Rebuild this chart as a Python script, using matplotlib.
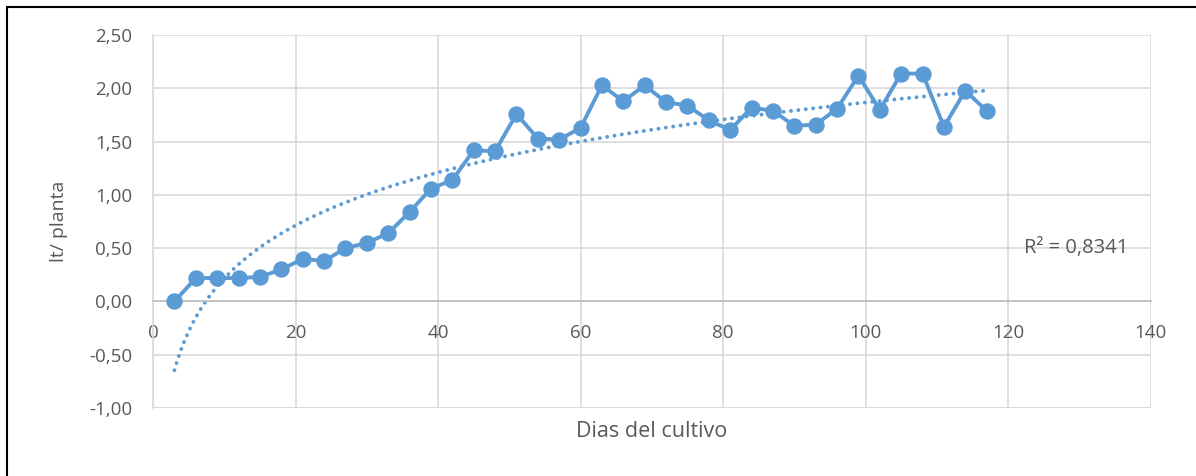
import numpy as np
import matplotlib.pyplot as plt
from matplotlib.patches import Rectangle
from matplotlib.ticker import FuncFormatter

dias = [3, 6, 9, 12, 15, 18, 21, 24, 27, 30, 33, 36, 39, 42, 45, 48, 51, 54, 57, 60,
        63, 66, 69, 72, 75, 78, 81, 84, 87, 90, 93, 96, 99, 102, 105, 108, 111, 114, 117]
litros = [0.00, 0.22, 0.22, 0.22, 0.23, 0.30, 0.40, 0.38, 0.50, 0.55, 0.64, 0.84, 1.06,
          1.14, 1.42, 1.41, 1.76, 1.53, 1.52, 1.63, 2.03, 1.88, 2.03, 1.87, 1.84, 1.70,
          1.61, 1.82, 1.79, 1.65, 1.66, 1.81, 2.12, 1.80, 2.14, 2.14, 1.64, 1.98, 1.79]
r2_text = 'R² = 0,8341'

azul = '#5B9BD5'
gris = '#595959'
plt.rcParams['font.family'] = ['Open Sans', 'DejaVu Sans']

fig = plt.figure(figsize=(11.96, 4.76), dpi=100)
ax = fig.add_axes([0.128, 0.143, 0.834, 0.783])

x = np.array(dias, dtype=float)
y = np.array(litros)

# tendencia logaritmica (y = a + b ln x)
b, a = np.polyfit(np.log(x), y, 1)
xt = np.linspace(x.min(), x.max(), 400)
ax.plot(xt, a + b * np.log(xt), linestyle=(0, (0.01, 1.9)), color=azul, lw=2.8,
        dash_capstyle='round', zorder=2)

ax.plot(x, y, color=azul, lw=2.8, marker='o', markersize=10.8, zorder=3)

ax.set_xlim(0, 140)
ax.set_ylim(-1.0, 2.5)
ax.set_xticks(range(0, 141, 20))
ax.set_yticks(np.arange(-1.0, 2.51, 0.5))
ax.yaxis.set_major_formatter(FuncFormatter(lambda v, p: ('%.2f' % v).replace('.', ',')))
ax.grid(True, color='#D9D9D9', lw=1.2)
ax.set_axisbelow(True)

for s in ['top', 'right']:
    ax.spines[s].set_visible(False)
ax.spines['left'].set_color('#D9D9D9')
ax.spines['left'].set_linewidth(1.2)
ax.spines['bottom'].set_position(('data', 0))
ax.spines['bottom'].set_color('#BFBFBF')
ax.spines['bottom'].set_linewidth(1.2)
ax.tick_params(length=0, labelsize=13.5, colors=gris)
ax.tick_params(axis='y', pad=15)
ax.tick_params(axis='x', pad=16)
ax.axhline(-1.0, color='#D9D9D9', lw=1.2, zorder=0)

ax.set_xlabel('Dias del cultivo', fontsize=15.5, color=gris)
ax.set_ylabel('lt/ planta', fontsize=14, color=gris)
ax.xaxis.set_label_coords(0.5, -0.035)
ax.yaxis.set_label_coords(-0.085, 0.5)

ax.text(122.3, 0.50, r2_text, fontsize=14.5, color=gris, va='center', ha='left')

fig.patches.append(Rectangle((7 / 1196, -0.05), 1.2, 1 - 7 / 476 + 0.05, transform=fig.transFigure,
                             fill=False, edgecolor='black', lw=1.5))

fig.savefig('out.png', dpi=100)
